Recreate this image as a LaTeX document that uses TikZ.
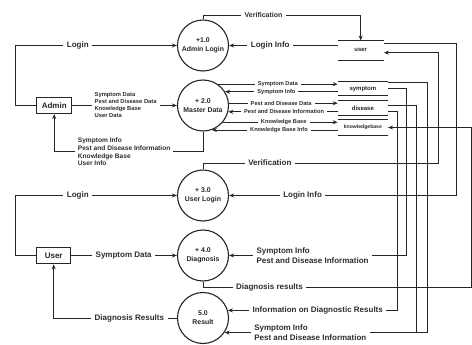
\documentclass[tikz,border=0pt]{standalone}
\usepackage{fontspec}
\setmainfont{Liberation Sans}
\usetikzlibrary{arrows.meta}
\begin{document}
\begin{tikzpicture}[x=1pt,y=-1pt,
  ink/.style={draw=black!85},
  flow/.style={ink, line width=0.9pt, -{Stealth[length=5pt,width=4pt]}},
  wire/.style={ink, line width=0.9pt},
  proc/.style={circle, ink, line width=1.1pt, minimum size=51pt, inner sep=0pt,
    align=center, text=black!85, font=\bfseries\fontsize{6.9}{9}\selectfont},
  ext/.style={rectangle, ink, line width=1.1pt, inner sep=0pt, text=black!85,
    font=\bfseries\fontsize{8}{9.6}\selectfont},
  store/.style={inner sep=0pt, text=black!85, font=\bfseries\fontsize{6}{7}\selectfont},
  storeline/.style={ink, line width=1.1pt},
  biglbl/.style={fill=white, inner xsep=3.5pt, inner ysep=1pt, text=black!82,
    align=left, font=\bfseries\fontsize{8}{9.8}\selectfont},
  toplbl/.style={biglbl, font=\bfseries\fontsize{7}{8.4}\selectfont},
  smalllbl/.style={fill=white, inner xsep=3pt, inner ysep=0.4pt, text=black!82,
    font=\bfseries\fontsize{5.7}{6.8}\selectfont},
  outlbl/.style={fill=white, inner xsep=3pt, inner ysep=0.5pt, text=black!82,
    align=left, font=\bfseries\fontsize{5.8}{7}\selectfont},
  inlbl/.style={fill=white, inner xsep=3pt, inner ysep=0.5pt, text=black!82,
    align=left, font=\bfseries\fontsize{6.6}{7.9}\selectfont},
]
\useasboundingbox (0,0) rectangle (472,345);

% processes
\node[proc] (c1) at (203,45.5) {+1.0\\Admin Login};
\node[proc] (c2) at (203,105.5) {+ 2.0\\Master Data};
\node[proc] (c3) at (203,195.5) {+ 3.0\\User Login};
\node[proc] (c4) at (203,255.5) {+ 4.0\\Diagnosis};
\node[proc] (c5) at (203,318) {5.0\\Result};

% external entities
\node[ext, minimum width=35pt, minimum height=16pt] (admin) at (54.2,105.5) {Admin};
\node[ext, minimum width=34pt, minimum height=16.6pt] (usr) at (53.7,255.5) {User};

% data stores
\node[store, minimum width=46pt, minimum height=19.3pt] (suser) at (360.7,50.35) {user};
\node[store, minimum width=50pt, minimum height=14pt] (ssym) at (362.9,88.7) {symptom};
\node[store, minimum width=50pt, minimum height=14pt] (sdis) at (362.9,108) {disease};
\node[store, minimum width=50pt, minimum height=15pt,
  font=\bfseries\fontsize{5.1}{6}\selectfont] (skb) at (362.9,127.5) {knowledgebase};
\foreach \s in {suser,ssym,sdis,skb}
  \draw[storeline] (\s.north west) -- (\s.north east) (\s.south west) -- (\s.south east);

% routing columns and rows
\coordinate (xL) at (15,0);
\coordinate (xA) at (397.7,0);
\coordinate (xB) at (406,0);
\coordinate (xC) at (416.7,0);
\coordinate (xD) at (427.3,0);
\coordinate (xE) at (438.3,0);
\coordinate (xF) at (456.7,0);
\coordinate (xG) at (471,0);
\coordinate (yV1) at (0,15);
\coordinate (yV3) at (0,163);
\coordinate (yDR) at (0,287.7);
\coordinate (yMA) at (0,151.7);

% admin side
\draw[flow] (admin.west) -- (xL |- admin.west) |- node[biglbl,pos=0.694]{Login} (c1.west);
\draw[flow] (admin.east) -- node[outlbl,pos=0.51]{Symptom Data\\Pest and Disease Data\\Knowledge Base\\User Data} (c2.west);
\draw[flow] (c2.south) -- (c2.south |- yMA) -| node[inlbl,pos=0.265]{Symptom Info\\Pest and Disease Information\\Knowledge Base\\User Info} (admin.south);

% admin login with user store
\draw[flow] (c1.north) -- (c1.north |- yV1) -| node[toplbl,pos=0.192]{Verification} (suser.north);
\draw[flow] (suser.west |- c1.east) -- node[biglbl,pos=0.62]{Login Info} (c1.east);

% master data with stores
\draw[flow] (c2.55) -- node[smalllbl,pos=0.5]{Symptom Data} (c2.55 -| ssym.west);
\draw[flow] (c2.32 -| ssym.west) -- node[smalllbl,pos=0.544]{Symptom Info} (c2.32);
\draw[flow] (c2.5) -- node[smalllbl,pos=0.48]{Pest and Disease Data} (c2.5 -| sdis.west);
\draw[flow] (c2.-14 -| sdis.west) -- node[smalllbl,pos=0.49]{Pest and Disease Information} (c2.-14);
\draw[flow] (c2.-40) -- node[smalllbl,pos=0.53]{Knowledge Base} (c2.-40 -| skb.west);
\draw[flow] (c2.-70 -| skb.west) -- node[smalllbl,pos=0.467]{Knowledge Base Info} (c2.-70);

% user login with user store
\draw[flow] ([yshift=-2.5pt]suser.north east) -| (xF |- c3.east)
  -- node[biglbl,pos=0.677]{Login Info} (c3.east);
\draw[flow] (c3.north) |- node[biglbl,pos=0.642]{Verification} (xE |- yV3)
  |- ([yshift=-2.3pt]suser.east);

% stores feeding diagnosis and result
\draw[flow] (ssym.east) -| (xB |- c4.east)
  -- node[biglbl,pos=0.528]{Symptom Info\\Pest and Disease Information} (c4.east);
\draw[wire] ([yshift=-4.3pt]sdis.north east) -| (xC |- c5.-34);
\draw[flow] ([yshift=-1pt]ssym.north east) -| (xD |- c5.-34)
  -- node[biglbl,pos=0.577]{Symptom Info\\Pest and Disease Information} (c5.-34);
\draw[flow] ([yshift=4pt]sdis.south east) -| (xA |- c5.17)
  -- node[biglbl,pos=0.471]{Information on Diagnostic Results} (c5.17);
\draw[flow] (c4.south) |- node[biglbl,pos=0.624]{Diagnosis results} (xG |- yDR) |- (skb.east);

% user side
\draw[flow] (usr.west) -- (xL |- usr.west) |- node[biglbl,pos=0.694]{Login} (c3.west);
\draw[flow] (usr.east) -- node[biglbl,pos=0.496]{Symptom Data} (c4.west);
\draw[flow] (c5.west) -| node[biglbl,pos=0.193]{Diagnosis Results} (usr.south);
\end{tikzpicture}
\end{document}
